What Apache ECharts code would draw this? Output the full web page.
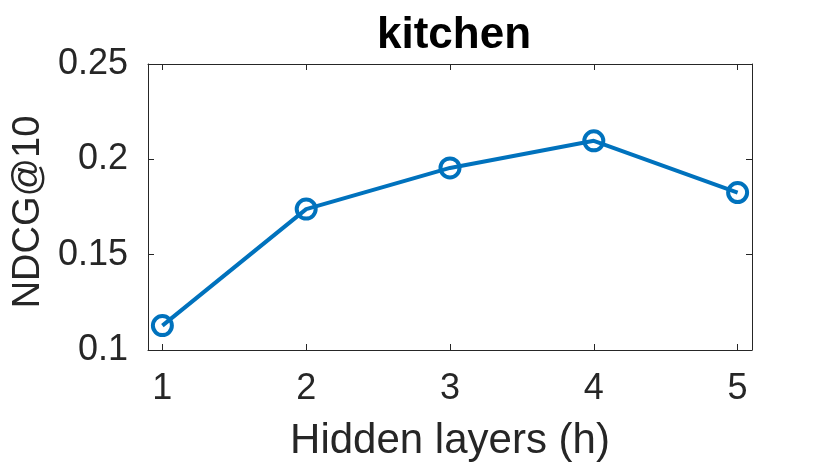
<!DOCTYPE html>
<html>
<head>
<meta charset="utf-8">
<script src="https://cdn.jsdelivr.net/npm/echarts@6/dist/echarts.min.js"></script>
<style>html,body{margin:0;padding:0;background:#fff}#c{width:830px;height:467px}</style>
</head>
<body>
<div id="c"></div>
<script>
var titleText = 'kitchen';
var xName = 'Hidden layers (h)';
var yName = 'NDCG@10';
var hiddenLayers = [1, 2, 3, 4, 5];
var ndcg = [0.1128, 0.1739, 0.1955, 0.2097, 0.1826];
var xTicks = [1, 2, 3, 4, 5];
var yTicks = [0.1, 0.15, 0.2, 0.25];

var FONT = "'Liberation Sans', Arial, Helvetica, sans-serif";
var TXT = '#262626';
var BLUE = '#0072BD';

var chart = echarts.init(document.getElementById('c'), null, {renderer: 'canvas'});
var pts = hiddenLayers.map(function (h, i) { return [h, ndcg[i]]; });

var axisLineStyle = {show: true, lineStyle: {color: TXT, width: 1}};
var tickStyle = {show: true, inside: true, length: 6, lineStyle: {color: TXT, width: 1}};

chart.setOption({
  animation: false,
  backgroundColor: '#ffffff',
  title: {
    text: titleText, left: 449, top: 9, textAlign: 'center',
    textStyle: {fontFamily: FONT, fontWeight: 'bold', fontSize: 44, color: '#000'}
  },
  grid: {left: 148, right: 78, top: 64, bottom: 114, containLabel: false},
  xAxis: [{
    type: 'value', min: 0.9, max: 5.1, position: 'bottom',
    name: xName, nameLocation: 'middle', nameGap: 70,
    nameTextStyle: {fontFamily: FONT, fontSize: 42, color: TXT},
    axisLine: axisLineStyle,
    axisTick: Object.assign({}, tickStyle, {customValues: xTicks}),
    axisLabel: {customValues: xTicks, fontFamily: FONT, fontSize: 36, color: TXT, margin: 21},
    splitLine: {show: false}
  }, {
    type: 'value', min: 0.9, max: 5.1, position: 'top',
    axisLine: axisLineStyle,
    axisTick: Object.assign({}, tickStyle, {customValues: xTicks}),
    axisLabel: {show: false},
    splitLine: {show: false}
  }],
  yAxis: [{
    type: 'value', min: 0.1, max: 0.25, interval: 0.05, position: 'left',
    name: yName, nameLocation: 'middle', nameGap: 98,
    nameTextStyle: {fontFamily: FONT, fontSize: 38, color: TXT, padding: [0, 0, 0, -10]},
    axisLine: axisLineStyle,
    axisTick: tickStyle,
    axisLabel: {fontFamily: FONT, fontSize: 36, color: TXT, margin: 20,
      formatter: function (v) { return String(+v.toFixed(2)); }},
    splitLine: {show: false}
  }, {
    type: 'value', min: 0.1, max: 0.25, interval: 0.05, position: 'right',
    axisLine: axisLineStyle,
    axisTick: tickStyle,
    axisLabel: {show: false},
    splitLine: {show: false}
  }],
  series: [{
    type: 'line',
    data: pts,
    xAxisIndex: 0, yAxisIndex: 0,
    symbol: 'circle', symbolSize: 19,
    lineStyle: {color: BLUE, width: 4},
    itemStyle: {color: 'rgba(0,0,0,0)', borderColor: BLUE, borderWidth: 4},
    emphasis: {disabled: true}
  }]
});
</script>
</body>
</html>
